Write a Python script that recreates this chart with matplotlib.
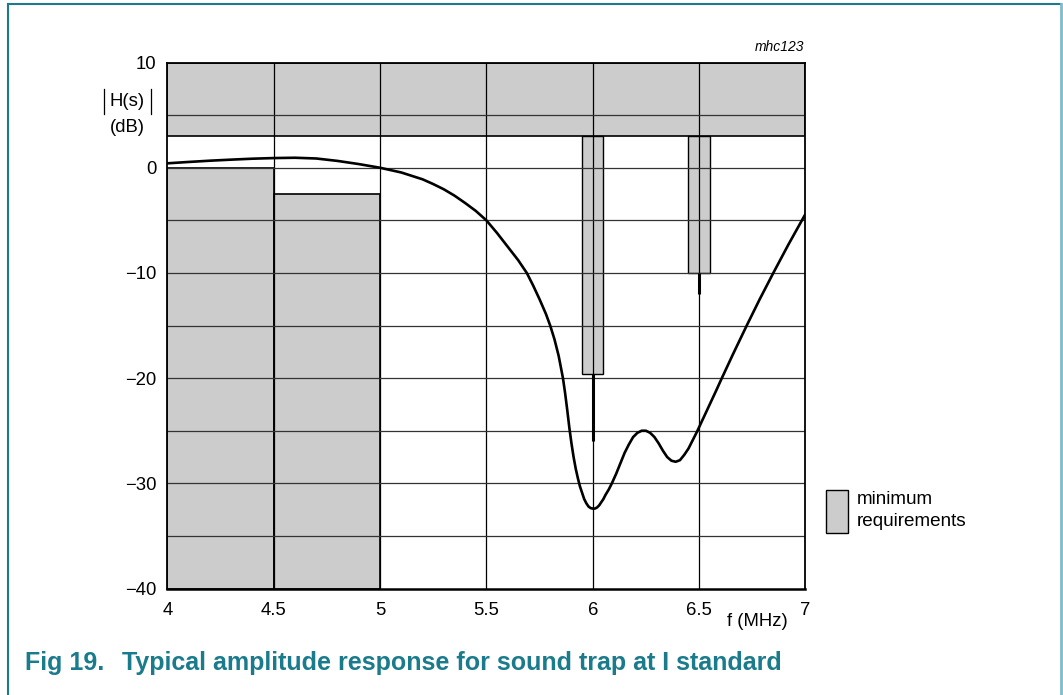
import matplotlib
matplotlib.use("Agg")
import matplotlib.pyplot as plt
from matplotlib.patches import Rectangle
from matplotlib.lines import Line2D

plt.rcParams['font.family'] = ['Liberation Sans', 'DejaVu Sans']

# ---- data ----
freq_mhz = [4.0, 4.1, 4.2, 4.3, 4.4, 4.5, 4.6, 4.7, 4.8, 4.9, 5.0, 5.1, 5.2, 5.25,
            5.3, 5.35, 5.4, 5.45, 5.5, 5.55, 5.6, 5.65, 5.69, 5.72, 5.75, 5.78,
            5.8, 5.82, 5.84, 5.86, 5.87, 5.88, 5.89, 5.9, 5.91, 5.92, 5.93, 5.94,
            5.95, 5.96, 5.97, 5.98, 5.99, 6.0, 6.01, 6.02, 6.03, 6.04, 6.05, 6.06,
            6.075, 6.09, 6.11, 6.13, 6.15, 6.17, 6.19, 6.21, 6.23, 6.25, 6.27, 6.29,
            6.31, 6.33, 6.35, 6.37, 6.39, 6.41, 6.43, 6.45, 6.47, 6.49, 6.52, 6.55,
            6.58, 6.607, 6.66, 6.724, 6.785, 6.849, 6.92, 7.0]
gain_db = [0.42, 0.55, 0.67, 0.77, 0.86, 0.92, 0.95, 0.88, 0.65, 0.35, 0.0, -0.45,
           -1.1, -1.55, -2.05, -2.65, -3.35, -4.1, -5.0, -6.2, -7.5, -8.8, -10.0,
           -11.2, -12.5, -13.9, -15.0, -16.3, -17.9, -20.0, -21.4, -23.0, -24.7,
           -26.2, -27.5, -28.6, -29.5, -30.3, -30.9, -31.5, -31.9, -32.2, -32.35,
           -32.4, -32.4, -32.3, -32.1, -31.8, -31.5, -31.1, -30.6, -30.0, -29.1,
           -28.1, -27.1, -26.3, -25.6, -25.2, -25.0, -25.0, -25.2, -25.6, -26.2,
           -26.9, -27.5, -27.85, -27.95, -27.8, -27.3, -26.7, -25.9, -25.1, -23.8,
           -22.5, -21.2, -20.0, -17.7, -15.0, -12.5, -10.0, -7.3, -4.4]

top_band = [3, 10]                  # upper forbidden band (dB)
pass_edges = [4.0, 4.5, 5.0]        # lower mask frequency edges
pass_upper = [0.0, -2.5]            # lower mask upper limit per segment
notch_freq = [6.0, 6.5]             # trap frequencies (MHz)
notch_upper = [-19.6, -10.0]        # lower end of upper requirement bars
notch_tick = [-26.0, -12.0]         # end of the tolerance ticks
notch_width = 0.1

x_ticks = [4, 4.5, 5, 5.5, 6, 6.5, 7]
x_ticklabels = ['4', '4.5', '5', '5.5', '6', '6.5', '7']
y_ticks = [10, 0, -10, -20, -30, -40]
y_ticklabels = ['10', '0', '\u221210', '\u221220', '\u221230', '\u221240']

GRAY = '#cccccc'
TEAL = '#1a7b8c'
FS = 13.3

fig = plt.figure(figsize=(10.63, 6.95), dpi=100)
ax = fig.add_axes([0.1574, 0.1532, 0.6003, 0.7568])
ax.set_xlim(4, 7)
ax.set_ylim(-40, 10)

# gray requirement regions
ax.add_patch(Rectangle((4, top_band[0]), 3, top_band[1] - top_band[0],
                       facecolor=GRAY, edgecolor='black', lw=1.2, zorder=1))
for i in range(len(pass_upper)):
    x0, x1 = pass_edges[i], pass_edges[i + 1]
    ax.add_patch(Rectangle((x0, -40), x1 - x0, pass_upper[i] + 40,
                           facecolor=GRAY, edgecolor='black', lw=1.2, zorder=1))
for f, lo, tk in zip(notch_freq, notch_upper, notch_tick):
    ax.add_patch(Rectangle((f - notch_width / 2, lo), notch_width, top_band[0] - lo,
                           facecolor=GRAY, edgecolor='black', lw=1.0, zorder=1))
    ax.plot([f, f], [lo, tk], color='black', lw=2.2, zorder=4, solid_capstyle='butt')

# grid
for xv in [4.5, 5, 5.5, 6, 6.5]:
    ax.axvline(xv, color='black', lw=0.9, zorder=2)
for yv in range(-35, 10, 5):
    ax.axhline(yv, color='#333333', lw=0.9, zorder=2)

# response curve
ax.plot(freq_mhz, gain_db, color='black', lw=1.9, zorder=5, solid_joinstyle='round')

for s in ax.spines.values():
    s.set_linewidth(1.3)
    s.set_zorder(6)
ax.spines['bottom'].set_linewidth(1.8)

ax.set_xticks(x_ticks)
ax.set_xticklabels(x_ticklabels, fontsize=FS)
ax.set_yticks(y_ticks)
ax.set_yticklabels(y_ticklabels, fontsize=FS)
ax.tick_params(axis='y', length=0, pad=8)
ax.tick_params(axis='x', length=0, pad=10)

# axis labels
fig.text(757 / 1063, 1 - 621 / 695, 'f (MHz)', fontsize=FS, ha='center', va='center')
fig.text(127 / 1063, 1 - 102 / 695, 'H(s)', fontsize=FS, ha='center', va='center')
fig.text(127 / 1063, 1 - 128 / 695, '(dB)', fontsize=FS, ha='center', va='center')
for xp in [104, 151]:
    fig.add_artist(Line2D([xp / 1063, xp / 1063], [1 - 89 / 695, 1 - 114 / 695],
                          color='black', lw=0.9))
fig.text(804 / 1063, 1 - 47 / 695, 'mhc123', fontsize=10, style='italic',
         ha='right', va='center')

# legend
fig.add_artist(Rectangle((826 / 1063, 1 - 533 / 695), 22 / 1063, 43 / 695,
                         transform=fig.transFigure, facecolor=GRAY,
                         edgecolor='black', lw=1.0))
fig.text(857 / 1063, 1 - 500 / 695, 'minimum', fontsize=13.6, ha='left', va='center')
fig.text(857 / 1063, 1 - 522 / 695, 'requirements', fontsize=13.6, ha='left', va='center')

# caption
fig.text(25 / 1063, 1 - 663 / 695, 'Fig 19.', fontsize=18, fontweight='bold',
         color=TEAL, ha='left', va='center')
fig.text(122 / 1063, 1 - 663 / 695, 'Typical amplitude response for sound trap at I standard',
         fontsize=18, fontweight='bold', color=TEAL, ha='left', va='center')

# outer frame
fig.add_artist(Line2D([8 / 1063, 1061 / 1063], [1 - 4 / 695, 1 - 4 / 695], color=TEAL, lw=1.5))
fig.add_artist(Line2D([8 / 1063, 8 / 1063], [0, 1 - 4 / 695], color=TEAL, lw=1.5))
fig.add_artist(Line2D([1061 / 1063, 1061 / 1063], [0, 1 - 4 / 695], color='#7dbccc', lw=2))

fig.savefig('out.png', dpi=100)
